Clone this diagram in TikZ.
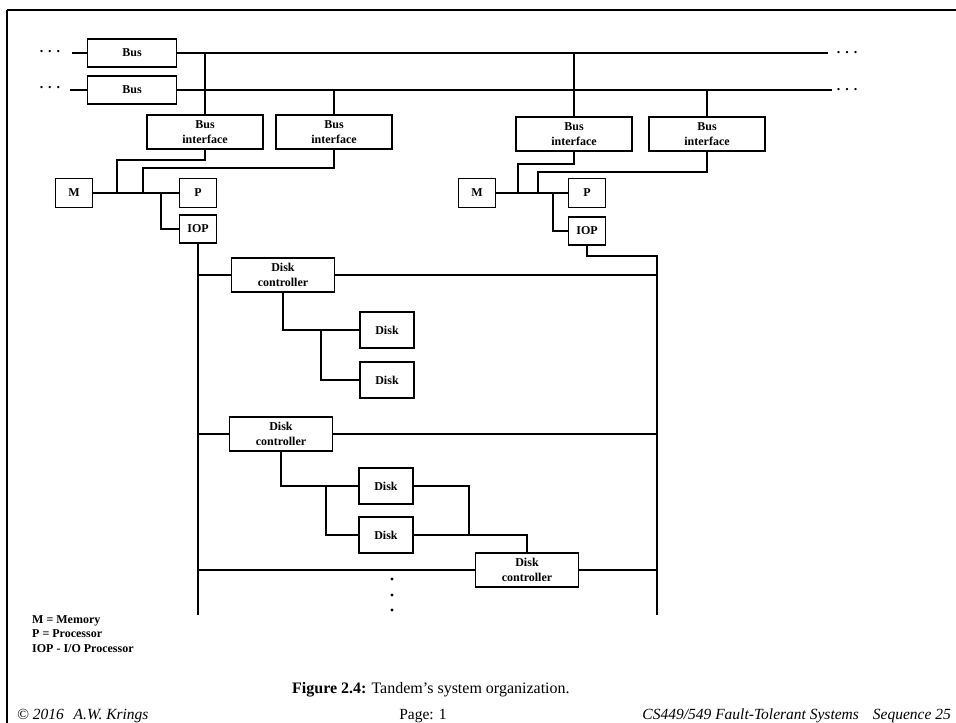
\documentclass[tikz,border=0pt]{standalone}
\usepackage{fontspec}
\setmainfont{Liberation Serif}
\usetikzlibrary{positioning,calc}
\tikzset{
  basebox/.style={rectangle,draw=black,line width=1.8pt,align=center,inner sep=0pt,font=\fontsize{12}{14.5}\selectfont\bfseries},
  busnode/.style={basebox,minimum width=89pt,minimum height=28pt},
  ifnode/.style={basebox,minimum width=116pt,minimum height=34pt},
  unitnode/.style={basebox,minimum width=37pt,minimum height=29pt},
  ctrlnode/.style={basebox,minimum width=103pt,minimum height=34pt},
  disknode/.style={basebox,minimum width=54pt,minimum height=36pt},
  wire/.style={line width=1.8pt},
  dotsnode/.style={inner sep=0pt,font=\fontsize{14}{14}\selectfont\bfseries},
  legendnode/.style={inner sep=0pt,anchor=base west,font=\fontsize{12}{14}\selectfont\bfseries},
  footnode/.style={inner sep=0pt,font=\fontsize{15.5}{16}\selectfont},
  footitnode/.style={inner sep=0pt,font=\fontsize{15.5}{16}\selectfont\itshape}
}

\begin{document}
\begin{tikzpicture}[x=1pt,y=-1pt]
  \useasboundingbox (0,0) rectangle (956,723);

  %% page frame
  \draw[line width=2.6pt] (7,10) -- (956,10);
  \draw[line width=1.8pt] (7,10) -- (7,723);

  %% the two buses
  \node[busnode] (bus1) at (132,53) {Bus};
  \node[busnode] (bus2) at (132,90) {Bus};
  \coordinate (bus1start) at (72,53);
  \coordinate (bus2start) at (70,90);
  \coordinate (bus1end) at (828,53);
  \coordinate (bus2end) at (832,90);
  \node[dotsnode] (ldots1) at (50,52) {.\hspace{5pt}.\hspace{5pt}.};
  \node[dotsnode] (ldots2) at (50,88) {.\hspace{5pt}.\hspace{5pt}.};
  \node[dotsnode] (rdots1) at (847,53) {.\hspace{5pt}.\hspace{5pt}.};
  \node[dotsnode] (rdots2) at (847,90) {.\hspace{5pt}.\hspace{5pt}.};
  \draw[wire] (bus1start) -- (bus1.west);
  \draw[wire] (bus2start) -- (bus2.west);
  \draw[wire] (bus1.east) -- (bus1end);
  \draw[wire] (bus2.east) -- (bus2end);

  %% bus interfaces
  \node[ifnode] (bi1) at (205,132) {Bus\\interface};
  \node[ifnode] (bi2) at (334,132) {Bus\\interface};
  \node[ifnode] (bi3) at (574,134) {Bus\\interface};
  \node[ifnode] (bi4) at (707,134) {Bus\\interface};
  \draw[wire] (bi1.north) -- (bi1.north |- bus1.east);
  \draw[wire] (bi2.north) -- (bi2.north |- bus2.east);
  \draw[wire] (bi3.north) -- (bi3.north |- bus1.east);
  \draw[wire] (bi4.north) -- (bi4.north |- bus2.east);

  %% left processor module
  \node[unitnode] (m1) at (74,193) {M};
  \node[unitnode] (p1) at (198,193) {P};
  \node[unitnode,minimum height=28pt] (iop1) at (198,229) {IOP};
  \coordinate (m1tap1) at (117,193);
  \coordinate (m1tap2) at (143,193);
  \coordinate (m1tap3) at (161,193);
  \draw[wire] (m1.east) -- (p1.west);
  \draw[wire] (bi1.south) -- ++(0,10) -| (m1tap1);
  \draw[wire] (bi2.south) -- ++(0,18) -| (m1tap2);
  \draw[wire] (m1tap3) |- (iop1.west);

  %% right processor module
  \node[unitnode] (m2) at (477,193) {M};
  \node[unitnode] (p2) at (587,193) {P};
  \node[unitnode,minimum height=28pt] (iop2) at (587,231) {IOP};
  \coordinate (m2tap1) at (518,193);
  \coordinate (m2tap2) at (538,193);
  \coordinate (m2tap3) at (553,193);
  \draw[wire] (m2.east) -- (p2.west);
  \draw[wire] (bi3.south) -- ++(0,12) -| (m2tap1);
  \draw[wire] (bi4.south) -- ++(0,20) -| (m2tap2);
  \draw[wire] (m2tap3) |- (iop2.west);

  %% I/O buses
  \coordinate (io1end) at (198,615);
  \coordinate (io2top) at (657,256);
  \coordinate (io2end) at (657,615);
  \draw[wire] (iop1.south) -- (io1end);
  \draw[wire] (iop2.south) |- (io2top) -- (io2end);

  %% disk controllers and disks
  \node[ctrlnode] (dc1) at (283,275) {Disk\\controller};
  \node[ctrlnode] (dc2) at (281,434) {Disk\\controller};
  \node[ctrlnode] (dc3) at (527,570) {Disk\\controller};
  \node[disknode] (disk1) at (387,330) {Disk};
  \node[disknode] (disk2) at (387,380) {Disk};
  \node[disknode] (disk3) at (386,486) {Disk};
  \node[disknode] (disk4) at (386,535) {Disk};
  \foreach \dc in {dc1,dc2,dc3} {
    \draw[wire] (\dc.west) -- (\dc.west -| io1end);
    \draw[wire] (\dc.east) -- (\dc.east -| io2end);
  }
  \coordinate (br1) at (321,330);
  \coordinate (br2) at (326,486);
  \coordinate (br3) at (469,535);
  \draw[wire] (dc1.south) |- (disk1.west);
  \draw[wire] (br1) |- (disk2.west);
  \draw[wire] (dc2.south) |- (disk3.west);
  \draw[wire] (br2) |- (disk4.west);
  \draw[wire] (disk3.east) -| (br3);
  \draw[wire] (disk4.east) -| (dc3.north);

  %% more controllers follow
  \foreach \y in {579,595,610}
    \fill (392,\y) circle (1.7pt);

  %% legend
  \node[legendnode] (leg1) at (32,623) {M = Memory};
  \node[legendnode] (leg2) at (32,637.5) {P = Processor};
  \node[legendnode] (leg3) at (32,652) {IOP - I/O Processor};

  %% caption and footer
  \node[inner sep=0pt,anchor=base west,font=\fontsize{16}{18}\selectfont] (cap) at (292,693)
    {\textbf{Figure 2.4:}\hspace{5pt}Tandem's system organization.};
  \node[footitnode,anchor=base west] (copy) at (17,719) {© 2016\hspace{6pt} A.W. Krings};
  \node[footnode,anchor=base] (page) at (423,719) {Page: 1};
  \node[footitnode,anchor=base east] (course) at (951,719)
    {CS449/549 Fault-Tolerant Systems\hspace{14pt}Sequence 25};
\end{tikzpicture}
\end{document}
